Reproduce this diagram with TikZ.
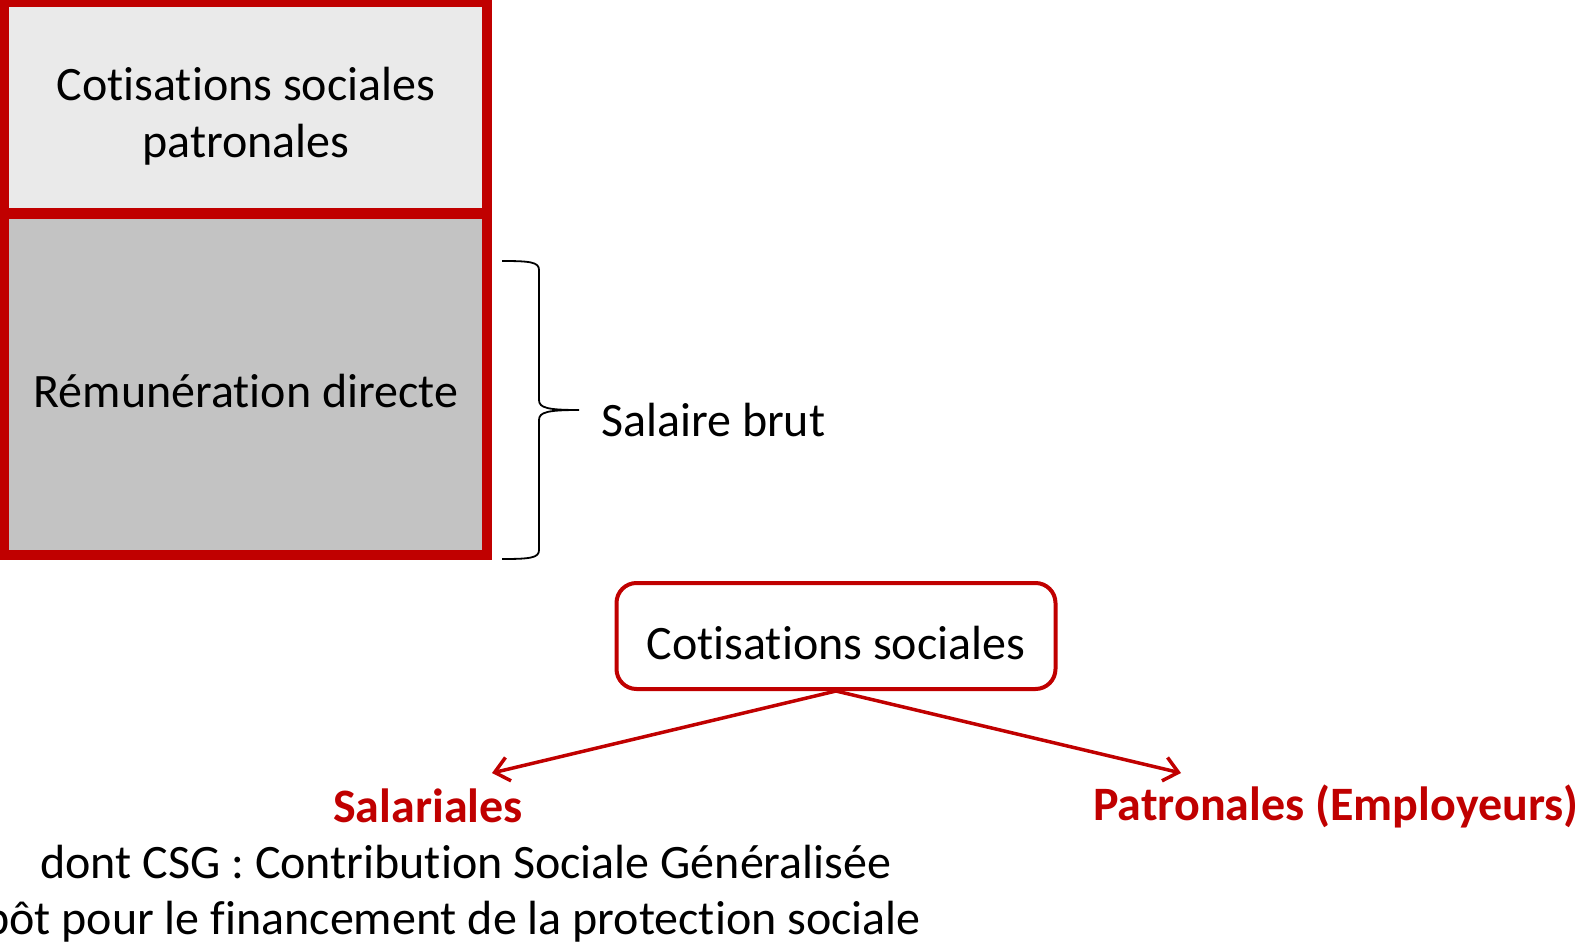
\documentclass[tikz,border=0pt]{standalone}
\usepackage{fontspec}
\setmainfont{Carlito}[Ligatures={NoCommon}]
\usetikzlibrary{arrows.meta}
\definecolor{myred}{HTML}{C00000}
\definecolor{lightfill}{HTML}{EAEAEA}
\definecolor{darkfill}{HTML}{C3C3C3}
\tikzset{
  x=1pt, y=-1pt,
  txt/.style={font=\fontsize{48}{57}\selectfont, inner sep=0pt, align=center},
  redtxt/.style={font=\fontsize{48}{57}\selectfont\bfseries, text=myred, inner sep=0pt},
  blockbox/.style={draw=myred, line width=7pt, minimum width=480pt, inner sep=0pt},
  rbox/.style={draw=myred, line width=4pt, rounded corners=20pt, minimum width=439pt, minimum height=106pt, fill=white},
  arr/.style={draw=myred, line width=3.5pt, -{Straight Barb[length=14pt,width=24pt]}},
  bracestyle/.style={draw=black, line width=1.8pt},
}
\begin{document}
\begin{tikzpicture}
\useasboundingbox (0,0) rectangle (1577,944);
% left stacked boxes
\node[blockbox, fill=lightfill, minimum height=208pt] (top) at (245,108) {};
\node[blockbox, fill=darkfill, minimum height=340pt] (bot) at (245,383) {};
\draw[myred, line width=7pt] (top.north west) rectangle (bot.south east);
\draw[myred, line width=7pt] (top.south west) -- (top.south east);
\node[txt] (toptxt) at (246,116) {Cotisations sociales\\patronales};
\node[txt] (bottxt) at (246,391) {Rémunération directe};
% brace
\draw[bracestyle] (502,261) .. controls (530,261) and (539,262) .. (539,270)
  -- (539,400) .. controls (539,408) and (548,410) .. (579,410)
  .. controls (548,410) and (539,412) .. (539,420)
  -- (539,550) .. controls (539,558) and (530,559) .. (502,559);
\node[txt, anchor=west] (brut) at (601,420) {Salaire brut};
% rounded box
\node[rbox] (cs) at (836,636) {};
\node[txt] (cstxt) at (836,643) {Cotisations sociales};
\coordinate (salTip) at (492,773);
\coordinate (patTip) at (1181,773);
\draw[arr] (cs.south) -- (salTip);
\draw[arr] (cs.south) -- (patTip);
\node[redtxt] (sal) at (428,806) {Salariales};
\node[redtxt] (pat) at (1336,806) {Patronales (Employeurs)};
\node[txt] (csg) at (466,862) {dont CSG : Contribution Sociale Généralisée};
\node[txt, anchor=east] (imp) at (921,922) {Impôt pour le financement de la protection sociale};
\end{tikzpicture}
\end{document}
